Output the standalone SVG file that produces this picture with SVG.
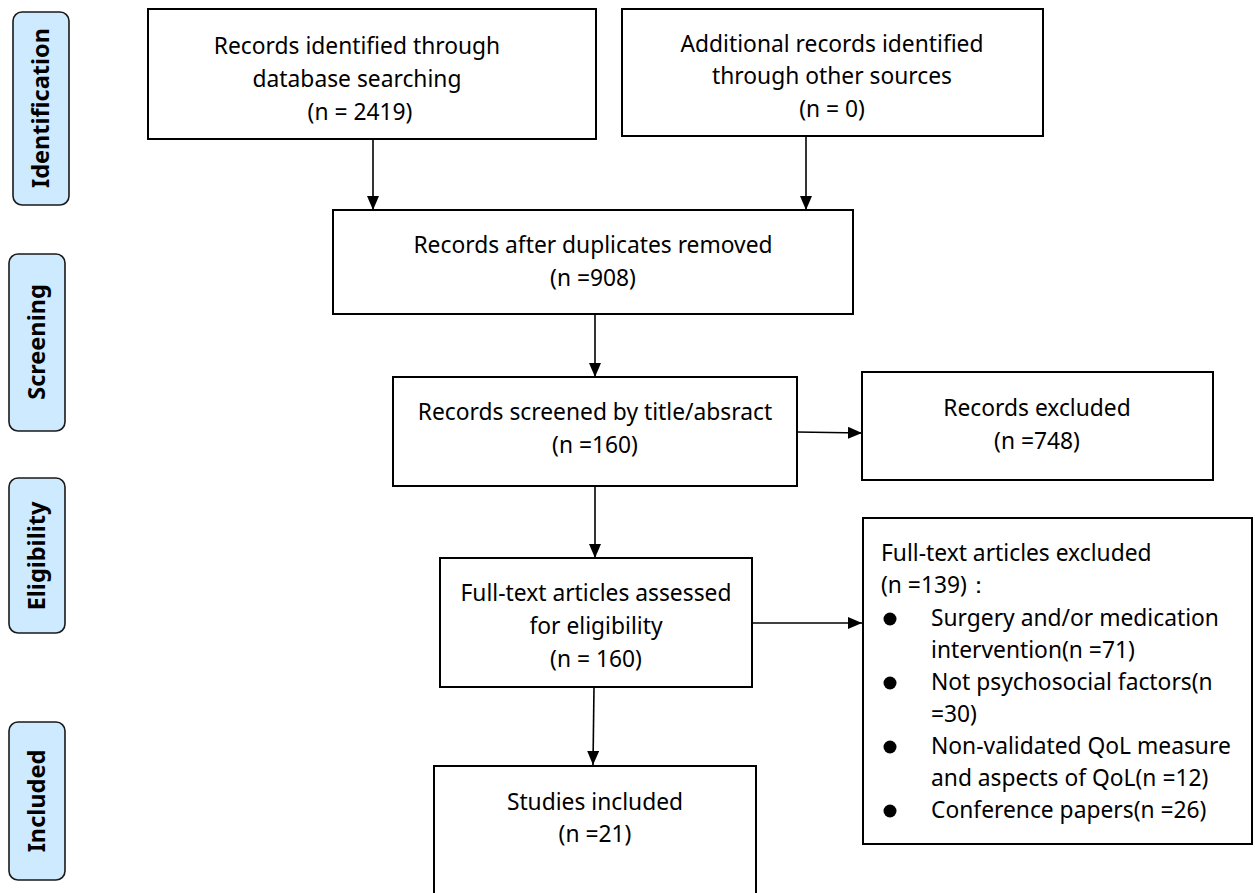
<svg xmlns="http://www.w3.org/2000/svg" width="1255" height="893" viewBox="0 0 1255 893">
<style>
.box{fill:#fff;stroke:#000;stroke-width:2}
.stage{fill:#cdeaff;stroke:#1a1a1a;stroke-width:1.6}
.st{font-family:"Noto Sans","Open Sans",sans-serif;font-weight:bold;font-size:23.5px;fill:#000;text-anchor:middle}
.t{font-family:"Noto Sans","Open Sans",sans-serif;font-size:22.8px;fill:#000;text-anchor:middle}
.tl{font-family:"Noto Sans","Open Sans",sans-serif;font-size:22.8px;fill:#000}
.c{stroke:#000;stroke-width:1.6;fill:none;marker-end:url(#ah)}
</style>
<defs>
<marker id="ah" markerUnits="userSpaceOnUse" markerWidth="14" markerHeight="12" refX="14" refY="6" orient="auto">
<path d="M0,0 L14,6 L0,12 Z" fill="#000"/>
</marker>
</defs>
<rect width="1255" height="893" fill="#fff"/>
<g id="stage-identification"><rect class="stage" x="13" y="12" width="56" height="193" rx="9"/><text class="st" transform="translate(49,108) rotate(-90)">Identification</text></g>
<g id="stage-screening"><rect class="stage" x="9" y="254" width="56" height="177" rx="9"/><text class="st" transform="translate(45,342) rotate(-90)">Screening</text></g>
<g id="stage-eligibility"><rect class="stage" x="9" y="478" width="56" height="155" rx="9"/><text class="st" transform="translate(45,556) rotate(-90)">Eligibility</text></g>
<g id="stage-included"><rect class="stage" x="9" y="722" width="56" height="158" rx="9"/><text class="st" transform="translate(45,801) rotate(-90)">Included</text></g>

<g id="connectors">
<line class="c" x1="373" y1="139" x2="373" y2="210"/>
<line class="c" x1="806" y1="136" x2="806" y2="210"/>
<line class="c" x1="595" y1="314" x2="595" y2="377"/>
<line class="c" x1="797" y1="432" x2="862" y2="433"/>
<line class="c" x1="595" y1="486" x2="595" y2="558"/>
<line class="c" x1="752" y1="623" x2="862" y2="623"/>
<line class="c" x1="594" y1="687" x2="593" y2="765"/>
</g>

<g id="n1"><rect class="box" x="148" y="9" width="448" height="130"/>
<text class="t" x="357" y="54">Records identified through</text>
<text class="t" x="357" y="87">database searching</text>
<text class="t" x="360" y="120">(n = 2419)</text></g>
<g id="n2"><rect class="box" x="622" y="9" width="421" height="127"/>
<text class="t" x="832" y="52">Additional records identified</text>
<text class="t" x="832" y="84">through other sources</text>
<text class="t" x="832" y="117">(n = 0)</text></g>
<g id="n3"><rect class="box" x="333" y="210" width="520" height="104"/>
<text class="t" x="593" y="253">Records after duplicates removed</text>
<text class="t" x="593" y="286">(n =908)</text></g>
<g id="n4"><rect class="box" x="393" y="377" width="404" height="109"/>
<text class="t" x="595" y="420">Records screened by title/absract</text>
<text class="t" x="595" y="453">(n =160)</text></g>
<g id="n5"><rect class="box" x="862" y="372" width="351" height="108"/>
<text class="t" x="1037" y="416">Records excluded</text>
<text class="t" x="1037" y="449">(n =748)</text></g>
<g id="n6"><rect class="box" x="440" y="558" width="312" height="129"/>
<text class="t" x="596" y="601">Full-text articles assessed</text>
<text class="t" x="596" y="634">for eligibility</text>
<text class="t" x="596" y="667">(n = 160)</text></g>
<g id="n7"><rect class="box" x="863" y="518" width="389" height="326"/>
<text class="tl" x="881" y="561">Full-text articles excluded</text>
<text class="tl" x="881" y="593">(n =139)：</text>
<circle cx="890" cy="619" r="6.5"/>
<text class="tl" x="931" y="626">Surgery and/or medication</text>
<text class="tl" x="931" y="658">intervention(n =71)</text>
<circle cx="890" cy="683" r="6.5"/>
<text class="tl" x="931" y="690">Not psychosocial factors(n</text>
<text class="tl" x="931" y="722">=30)</text>
<circle cx="890" cy="747" r="6.5"/>
<text class="tl" x="931" y="754">Non-validated QoL measure</text>
<text class="tl" x="931" y="786">and aspects of QoL(n =12)</text>
<circle cx="890" cy="811" r="6.5"/>
<text class="tl" x="931" y="818">Conference papers(n =26)</text></g>
<g id="n8"><rect class="box" x="434" y="766" width="322" height="140"/>
<text class="t" x="595" y="810">Studies included</text>
<text class="t" x="595" y="842">(n =21)</text></g>
</svg>
